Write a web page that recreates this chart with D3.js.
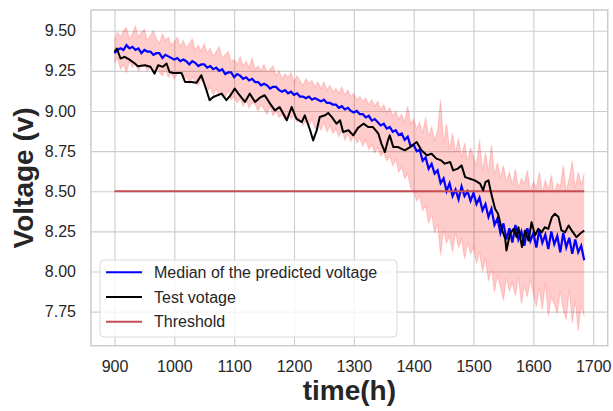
<!DOCTYPE html>
<html>
<head>
<meta charset="utf-8">
<script src="https://cdn.jsdelivr.net/npm/d3@7"></script>
<style>
  body { margin: 0; background: #fff; }
  svg text { font-family: "Liberation Sans", Arial, sans-serif; fill: #262626; }
  .grid line { stroke: #cccccc; stroke-width: 1.1; }
  .grid path { stroke-width: 0; }
</style>
</head>
<body>
<script>
// ---- data ----
const xTicks = [900, 1000, 1100, 1200, 1300, 1400, 1500, 1600, 1700];
const yTicks = [7.75, 8.00, 8.25, 8.50, 8.75, 9.00, 9.25, 9.50];
const xLim = [860.75, 1724.25];
const yLim = [7.538, 9.629];

const threshold = 8.5;
const thresholdRange = [900, 1685];

// predicted series, every 5 h
const predTime = [900,905,910,915,920,925,930,935,940,945,950,955,960,965,970,975,980,985,990,995,
  1000,1005,1010,1015,1020,1025,1030,1035,1040,1045,1050,1055,1060,1065,1070,1075,1080,1085,1090,1095,
  1100,1105,1110,1115,1120,1125,1130,1135,1140,1145,1150,1155,1160,1165,1170,1175,1180,1185,1190,1195,
  1200,1205,1210,1215,1220,1225,1230,1235,1240,1245,1250,1255,1260,1265,1270,1275,1280,1285,1290,1295,
  1300,1305,1310,1315,1320,1325,1330,1335,1340,1345,1350,1355,1360,1365,1370,1375,1380,1385,1390,1395,
  1400,1405,1410,1415,1420,1425,1430,1435,1440,1445,1450,1455,1460,1465,1470,1475,1480,1485,1490,1495,
  1500,1505,1510,1515,1520,1525,1530,1535,1540,1545,1550,1555,1560,1565,1570,1575,1580,1585,1590,1595,
  1600,1605,1610,1615,1620,1625,1630,1635,1640,1645,1650,1655,1660,1665,1670,1675,1680,1685];

// median of the predicted voltage
const medianVolt = [9.36,9.38,9.39,9.38,9.41,9.39,9.40,9.38,9.39,9.36,
  9.38,9.37,9.37,9.35,9.36,9.36,9.33,9.35,9.34,9.33,
  9.32,9.33,9.31,9.32,9.31,9.29,9.31,9.30,9.28,9.29,
  9.29,9.27,9.28,9.26,9.27,9.25,9.26,9.23,9.24,9.24,
  9.21,9.23,9.22,9.20,9.21,9.19,9.20,9.18,9.18,9.16,
  9.17,9.16,9.14,9.15,9.15,9.13,9.12,9.13,9.11,9.12,
  9.10,9.11,9.09,9.09,9.08,9.09,9.07,9.08,9.07,9.06,
  9.07,9.05,9.05,9.04,9.04,9.02,9.03,9.01,9.02,9.00,
  8.99,9.00,8.98,8.98,8.96,8.97,8.94,8.95,8.93,8.91,
  8.92,8.89,8.90,8.87,8.88,8.85,8.86,8.82,8.84,8.78,
  8.79,8.75,8.76,8.69,8.71,8.64,8.67,8.61,8.63,8.55,
  8.58,8.50,8.55,8.47,8.51,8.45,8.53,8.47,8.50,8.44,
  8.49,8.42,8.46,8.38,8.42,8.34,8.39,8.29,8.33,8.24,
  8.30,8.20,8.27,8.18,8.29,8.20,8.25,8.16,8.27,8.19,
  8.24,8.15,8.26,8.18,8.23,8.14,8.25,8.17,8.22,8.12,
  8.24,8.15,8.21,8.11,8.20,8.12,8.16,8.07];

// spread of the predicted samples (upper / lower traces)
const predHigh = [9.44,9.49,9.46,9.50,9.52,9.45,9.48,9.53,9.46,9.49,
  9.51,9.44,9.47,9.50,9.45,9.42,9.48,9.44,9.46,9.41,
  9.43,9.46,9.40,9.44,9.39,9.42,9.45,9.38,9.41,9.37,
  9.42,9.36,9.39,9.34,9.37,9.40,9.33,9.35,9.37,9.31,
  9.32,9.29,9.34,9.28,9.31,9.27,9.33,9.26,9.28,9.25,
  9.29,9.24,9.26,9.28,9.22,9.25,9.20,9.23,9.21,9.24,
  9.18,9.22,9.19,9.16,9.20,9.17,9.19,9.15,9.18,9.14,
  9.18,9.13,9.16,9.12,9.14,9.11,9.15,9.10,9.13,9.09,
  9.11,9.07,9.09,9.06,9.08,9.04,9.07,9.03,9.06,9.01,
  9.04,8.99,9.02,8.97,9.00,8.95,8.98,8.93,9.03,8.92,
  8.95,8.89,8.93,8.86,8.96,8.84,8.90,8.82,8.88,9.07,
  8.80,8.92,8.76,8.86,8.74,8.83,8.71,8.80,8.69,8.77,
  8.72,8.66,8.82,8.63,8.74,8.62,8.79,8.60,8.68,8.58,
  8.66,8.56,8.62,8.54,8.64,8.52,8.58,8.55,8.63,8.50,
  8.56,8.52,8.62,8.49,8.57,8.51,8.60,8.48,8.55,8.53,
  8.66,8.50,8.58,8.69,8.52,8.62,8.54,8.61];
const predLow = [9.30,9.33,9.26,9.29,9.24,9.31,9.27,9.30,9.25,9.28,
  9.29,9.25,9.28,9.23,9.27,9.24,9.22,9.26,9.21,9.24,
  9.20,9.23,9.25,9.19,9.22,9.17,9.21,9.18,9.16,9.20,
  9.17,9.12,9.15,9.10,9.14,9.09,9.12,9.08,9.13,9.07,
  9.09,9.05,9.08,9.03,9.07,9.02,9.05,9.04,9.00,9.04,
  9.01,8.98,9.03,8.97,9.00,8.96,8.98,8.94,8.99,8.95,
  8.97,8.93,8.96,8.91,8.94,8.90,8.95,8.89,8.92,8.88,
  8.93,8.87,8.91,8.86,8.89,8.84,8.88,8.82,8.86,8.81,
  8.85,8.80,8.83,8.78,8.82,8.76,8.79,8.74,8.77,8.72,
  8.74,8.69,8.72,8.66,8.70,8.62,8.65,8.58,8.61,8.52,
  8.50,8.44,8.47,8.38,8.41,8.30,8.36,8.24,8.30,8.10,
  8.26,8.18,8.22,8.12,8.24,8.15,8.20,8.08,8.18,8.11,
  8.15,8.05,8.12,8.00,8.08,7.94,8.02,7.87,7.98,7.90,
  7.82,7.96,7.88,7.93,7.85,7.97,7.80,7.91,7.84,7.95,
  7.86,7.78,7.90,7.76,7.93,7.72,7.84,7.80,7.74,7.88,
  7.76,7.70,7.89,7.68,7.82,7.63,7.79,7.72];

// test voltage
const testTime = [900,904,910,917,925,934,939,951,960,967,973,981,987,992,998,1012,1018,1029,1037,1045,
  1051,1059,1065,1079,1087,1094,1101,1107,1118,1126,1135,1143,1151,1160,1168,1176,1188,1196,1204,1213,
  1218,1227,1232,1238,1243,1252,1257,1263,1271,1277,1282,1291,1299,1307,1316,1324,1332,1341,1346,1352,
  1357,1360,1366,1374,1385,1394,1405,1413,1422,1430,1438,1446,1452,1461,1466,1474,1480,1486,1494,1502,
  1511,1516,1520,1525,1529,1536,1541,1547,1553,1555,1561,1567,1572,1575,1581,1586,1592,1597,1603,1608,
  1614,1619,1625,1631,1636,1642,1647,1653,1659,1664,1672,1678,1685];
const testVolt = [9.368,9.389,9.327,9.337,9.32,9.296,9.279,9.285,9.275,9.233,9.285,9.275,9.296,9.243,9.237,9.237,9.181,9.181,9.175,9.223,
  9.16,9.067,9.087,9.108,9.067,9.098,9.14,9.108,9.056,9.108,9.056,9.083,9.098,9.046,9.004,9.025,8.942,9.025,8.952,8.931,
  8.973,8.88,8.817,8.88,8.963,8.973,8.988,8.963,8.921,8.942,8.869,8.88,8.848,8.895,8.921,8.9,8.9,8.859,8.797,8.744,
  8.817,8.848,8.775,8.775,8.755,8.775,8.807,8.755,8.724,8.734,8.703,8.692,8.672,8.682,8.63,8.641,8.661,8.588,8.578,8.568,
  8.547,8.505,8.557,8.568,8.495,8.391,8.36,8.266,8.204,8.131,8.235,8.266,8.214,8.276,8.152,8.256,8.193,8.307,8.225,8.266,
  8.245,8.276,8.266,8.339,8.36,8.339,8.256,8.245,8.287,8.256,8.214,8.235,8.256];

const legendItems = [
  {label: "Median of the predicted voltage", color: "#0000ff"},
  {label: "Test votage", color: "#000000"},
  {label: "Threshold", color: "#c44e52"}
];

// ---- layout ----
const W = 613, H = 411;
const margin = {top: 10, right: 5.3, bottom: 65.3, left: 91};
const width = W - margin.left - margin.right,
      height = H - margin.top - margin.bottom;

const svg = d3.select("body").append("svg")
  .attr("width", W)
  .attr("height", H);

const x = d3.scaleLinear().domain(xLim).range([0, width]);
const y = d3.scaleLinear().domain(yLim).range([height, 0]);

const g = svg.append("g")
  .attr("transform", `translate(${margin.left},${margin.top})`);

// gridlines
g.append("g")
  .attr("class", "grid")
  .call(d3.axisLeft(y).tickValues(yTicks).tickSize(-width).tickFormat(""));
g.append("g")
  .attr("class", "grid")
  .attr("transform", `translate(0,${height})`)
  .call(d3.axisBottom(x).tickValues(xTicks).tickSize(-height).tickFormat(""));

g.append("clipPath").attr("id", "clip")
  .append("rect").attr("width", width).attr("height", height);
const plot = g.append("g").attr("clip-path", "url(#clip)");

const pred = predTime.map((t, i) => ({t, lo: predLow[i], hi: predHigh[i], med: medianVolt[i]}));

// predicted spread
plot.append("path")
  .datum(pred)
  .attr("fill", "#ff0000")
  .attr("fill-opacity", 0.2)
  .attr("d", d3.area().x(d => x(d.t)).y0(d => y(d.lo)).y1(d => y(d.hi)));

[d => d.hi, d => d.lo].forEach(acc => {
  plot.append("path")
    .datum(pred)
    .attr("fill", "none")
    .attr("stroke", "#ff0000")
    .attr("stroke-opacity", 0.15)
    .attr("stroke-width", 1.2)
    .attr("d", d3.line().x(d => x(d.t)).y(d => y(acc(d))));
});

// median
plot.append("path")
  .datum(pred)
  .attr("fill", "none")
  .attr("stroke", "#0000ff")
  .attr("stroke-width", 2.2)
  .attr("d", d3.line().x(d => x(d.t)).y(d => y(d.med)));

// threshold
plot.append("line")
  .attr("x1", x(thresholdRange[0]))
  .attr("x2", x(thresholdRange[1]))
  .attr("y1", y(threshold))
  .attr("y2", y(threshold))
  .attr("stroke", "#c44e52")
  .attr("stroke-width", 2);

// test voltage
const test = testTime.map((t, i) => ({t, v: testVolt[i]}));
plot.append("path")
  .datum(test)
  .attr("fill", "none")
  .attr("stroke", "#000")
  .attr("stroke-width", 2)
  .attr("stroke-linejoin", "round")
  .attr("d", d3.line().x(d => x(d.t)).y(d => y(d.v)));

// frame
g.append("rect")
  .attr("width", width)
  .attr("height", height)
  .attr("fill", "none")
  .attr("stroke", "#cccccc")
  .attr("stroke-width", 1.5);

// tick labels
const xAxis = g.append("g")
  .attr("transform", `translate(0,${height})`)
  .call(d3.axisBottom(x).tickValues(xTicks).tickSize(0).tickPadding(15).tickFormat(d3.format("d")));
const yAxis = g.append("g")
  .call(d3.axisLeft(y).tickValues(yTicks).tickSize(0).tickPadding(15).tickFormat(d3.format(".2f")));
[xAxis, yAxis].forEach(a => {
  a.select(".domain").remove();
  a.selectAll("text").attr("font-size", 16).attr("font-family", null).style("fill", "#262626");
});

// axis titles
svg.append("text")
  .attr("x", margin.left + width / 2)
  .attr("y", 400)
  .attr("text-anchor", "middle")
  .attr("font-size", 28)
  .attr("font-weight", "bold")
  .text("time(h)");

svg.append("text")
  .attr("transform", `translate(33,${margin.top + height / 2}) rotate(-90)`)
  .attr("text-anchor", "middle")
  .attr("font-size", 28)
  .attr("font-weight", "bold")
  .text("Voltage (v)");

// legend
const legend = svg.append("g").attr("transform", "translate(100,260)");
legend.append("rect")
  .attr("width", 297)
  .attr("height", 77)
  .attr("rx", 4)
  .attr("fill", "#fff")
  .attr("fill-opacity", 0.8)
  .attr("stroke", "#d9d9d9")
  .attr("stroke-width", 1);

const item = legend.selectAll(".item")
  .data(legendItems)
  .enter().append("g")
  .attr("transform", (d, i) => `translate(0,${12.3 + i * 24.7})`);
item.append("line")
  .attr("x1", 6).attr("x2", 42)
  .attr("stroke", d => d.color)
  .attr("stroke-width", 2);
item.append("text")
  .attr("x", 54)
  .attr("dy", "0.35em")
  .attr("font-size", 16)
  .text(d => d.label);
</script>
</body>
</html>
